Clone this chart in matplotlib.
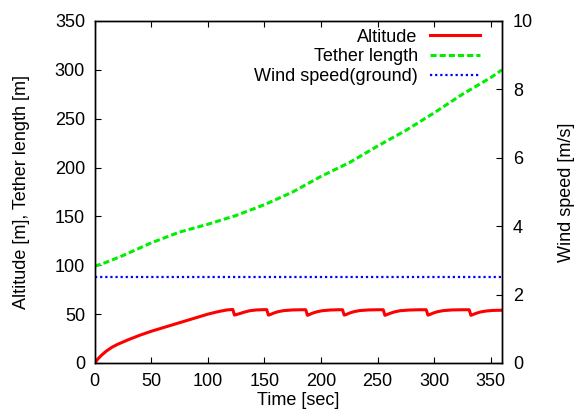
import numpy as np
import matplotlib
matplotlib.use('Agg')
import matplotlib.pyplot as plt

plt.rcParams['font.family'] = ['Liberation Sans', 'DejaVu Sans']
plt.rcParams['font.size'] = 13

# altitude [m] vs time [sec]
alt_t = [0, 3, 6, 10, 15, 20, 25, 30, 40, 50, 60, 70, 80, 90, 100, 110, 117, 122,
         123.5, 125, 128, 132, 137, 143, 150, 152,
         153.5, 155, 158, 162, 167, 175, 183, 186.5,
         188, 189.5, 192, 196, 201, 208, 215, 219,
         220.5, 222, 225, 229, 234, 242, 250, 255,
         256.5, 258, 261, 265, 270, 278, 287, 293,
         294.5, 296, 299, 303, 308, 316, 325, 331,
         332.5, 334, 337, 341, 346, 352, 360]
alt = [0, 4.5, 8, 12, 16, 19, 21.5, 24, 28.5, 32.5, 36, 39.5, 43, 46.5, 50, 52.8, 54.3, 54.8,
       49, 49.5, 50.5, 52, 53.5, 54.3, 54.6, 54.6,
       49, 49.5, 51, 52.5, 53.6, 54.3, 54.5, 54.5,
       48.8, 49.4, 50.8, 52.3, 53.5, 54.2, 54.5, 54.5,
       49, 49.5, 51, 52.5, 53.6, 54.3, 54.5, 54.5,
       48.8, 49.4, 50.8, 52.3, 53.5, 54.2, 54.5, 54.5,
       49, 49.5, 51, 52.5, 53.6, 54.3, 54.5, 54.5,
       48.8, 49.4, 50.8, 52.2, 53.2, 53.8, 54.0]

# tether length [m]
teth_t = [0, 10, 25, 50, 75, 100, 125, 150, 175, 200, 225, 250, 275, 300, 325, 350, 360]
teth = [99, 103, 110, 123, 134, 142, 151, 162, 175, 191, 205, 222, 238, 256, 275, 292, 300]

# ground wind speed [m/s]
wind_t = [0, 360]
wind = [2.5, 2.5]

fig = plt.figure(figsize=(5.78, 4.18), dpi=100)
ax = fig.add_axes([0.164, 0.1316, 0.7045, 0.8182])
ax2 = ax.twinx()

l1, = ax.plot(alt_t, alt, color='#ff0000', lw=2.2, label='Altitude')
l2, = ax.plot(teth_t, teth, color='#00ee00', lw=2.2, dashes=(2, 1), label='Tether length')
l3, = ax2.plot(wind_t, wind, color='#0000ff', lw=1.6, dashes=(1, 1.3), label='Wind speed(ground)')

ax.set_xlim(0, 360)
ax.set_ylim(0, 350)
ax2.set_ylim(0, 10)
ax.set_xticks(np.arange(0, 351, 50))
ax.set_yticks(np.arange(0, 351, 50))
ax2.set_yticks(np.arange(0, 11, 2))

ax.tick_params(axis='both', direction='in', length=4, width=0.8, pad=7)
ax.tick_params(axis='x', top=True)
ax.tick_params(axis='y', right=False)
ax2.tick_params(axis='y', direction='in', length=4, width=0.8, pad=8)

for a in (ax, ax2):
    for s in a.spines.values():
        s.set_linewidth(1.0)

ax.set_xlabel('Time [sec]', labelpad=2)
ax.set_ylabel('Altitude [m], Tether length [m]', labelpad=18)
ax2.set_ylabel('Wind speed [m/s]', labelpad=18)

ax2.legend(handles=[l1, l2, l3], loc='upper right', frameon=False, markerfirst=False,
           handlelength=2.75, handletextpad=0.7, labelspacing=0.15,
           borderpad=0, borderaxespad=0, bbox_to_anchor=(0.946, 0.978))

fig.savefig('out.png', dpi=100)
